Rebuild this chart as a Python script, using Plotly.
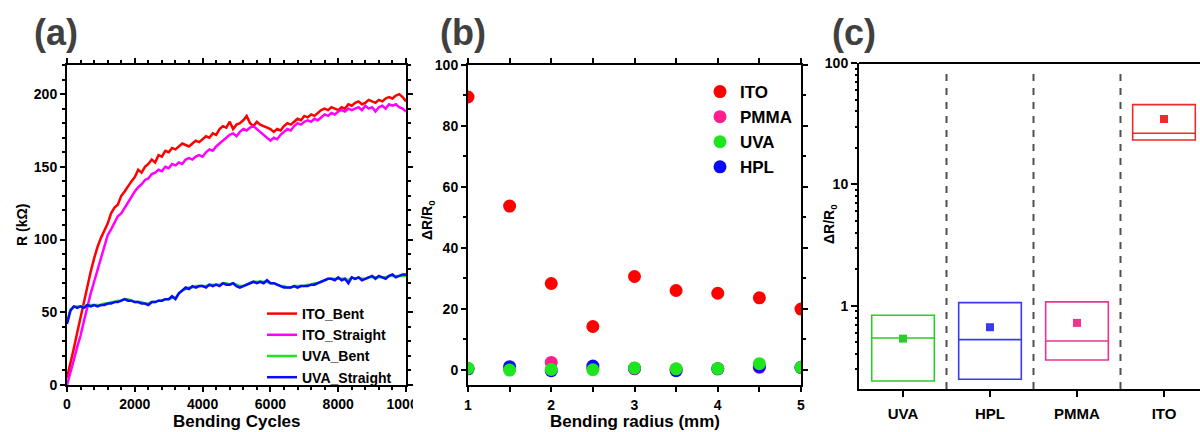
import plotly.graph_objects as go

# ---------------- (a) resistance vs bending cycles ----------------
cycles = list(range(0, 10001, 100))

ito_bent = [5, 14, 25, 36, 47, 58, 68, 78, 87, 95,
            101, 106, 111, 118, 122, 124, 130, 133, 137, 140,
            143, 148, 146, 150, 152, 155, 153, 158, 157, 161,
            160, 163, 162, 164, 166, 165, 164, 166, 168, 167,
            169, 171, 170, 173, 172, 176, 178, 177, 181, 176,
            179, 180, 182, 185, 180, 178, 181, 179, 178, 177,
            176, 174, 176, 175, 178, 180, 179, 181, 183, 182,
            185, 184, 186, 185, 187, 189, 190, 189, 191, 190,
            189, 191, 190, 193, 192, 194, 195, 193, 194, 196,
            195, 194, 196, 195, 197, 198, 197, 199, 200, 198,
            195]

ito_straight = [0, 8, 17, 26, 34, 44, 54, 63, 71, 79,
                88, 95, 103, 107, 112, 116, 118, 122, 126, 129,
                133, 136, 138, 141, 142, 145, 146, 148, 147, 150,
                149, 152, 151, 153, 152, 155, 156, 155, 157, 158,
                157, 160, 162, 161, 164, 166, 168, 170, 172, 173,
                171, 174, 176, 175, 177, 178, 176, 174, 172, 170,
                168, 170, 169, 172, 174, 176, 175, 178, 180, 179,
                181, 182, 181, 183, 182, 184, 186, 185, 187, 186,
                188, 189, 188, 190, 189, 190, 191, 189, 192, 190,
                191, 188, 191, 192, 190, 193, 192, 193, 191, 190,
                188]

uva_bent = [43, 52, 54, 54, 54, 54, 55, 55, 55, 55,
            55, 56, 56, 57, 57, 58, 58, 59, 59, 58,
            57, 57, 57, 56, 56, 57, 57, 58, 58, 59,
            59, 60, 60, 63, 65, 66, 67, 67, 68, 68,
            68, 68, 69, 69, 69, 69, 70, 70, 69, 70,
            69, 68, 68, 69, 70, 71, 71, 71, 71, 71,
            70, 70, 69, 68, 68, 67, 67, 68, 68, 68,
            68, 69, 69, 70, 70, 71, 72, 73, 73, 73,
            73, 73, 73, 72, 74, 73, 74, 73, 73, 74,
            74, 74, 74, 74, 74, 75, 75, 75, 75, 75,
            75]

uva_straight = [42, 51, 54, 53, 54, 53, 55, 54, 55, 54,
                55, 55, 56, 56, 57, 57, 58, 59, 58, 58,
                57, 57, 56, 56, 55, 57, 57, 58, 58, 59,
                59, 61, 59, 63, 65, 67, 66, 68, 67, 68,
                68, 67, 69, 68, 69, 68, 70, 69, 69, 70,
                68, 67, 68, 69, 70, 71, 70, 71, 70, 72,
                70, 70, 69, 68, 67, 67, 67, 68, 67, 68,
                68, 68, 69, 69, 70, 71, 72, 73, 73, 72,
                74, 72, 73, 70, 74, 73, 74, 72, 73, 74,
                75, 73, 75, 74, 73, 75, 76, 74, 75, 76,
                76]

# ---------------- (b) dR/R0 vs bending radius ----------------
radius_mm = [1, 1.5, 2, 2.5, 3, 3.5, 4, 4.5, 5]
dr_ito = [89.5, 53.7, 28.3, 14.2, 30.6, 26.0, 25.1, 23.6, 19.9]
dr_pmma = [0.4, 0.3, 2.4, 0.5, 0.3, 0.2, 0.3, 0.8, 0.7]
dr_hpl = [0.3, 1.0, -0.3, 1.2, 0.5, -0.3, 0.3, 1.0, 0.8]
dr_uva = [0.5, -0.1, 0.1, 0.0, 0.6, 0.3, 0.4, 2.0, 0.8]

# ---------------- (c) box summary (log scale) ----------------
materials = ["UVA", "HPL", "PMMA", "ITO"]
box_q1 = [0.241, 0.249, 0.359, 23.2]
box_median = [0.545, 0.528, 0.515, 26.4]
box_q3 = [0.838, 1.064, 1.079, 45.4]
box_mean = [0.538, 0.668, 0.725, 34.6]

# minor tick positions of the log axis in (c)
log_minor = [0.3, 0.4, 0.5, 0.6, 0.7, 0.8, 0.9,
             2, 3, 4, 5, 6, 7, 8, 9,
             20, 30, 40, 50, 60, 70, 80, 90]

RED = "#ff0000"
MAGENTA = "#ff00ff"
GREEN = "#1ee61e"
BLUE = "#0a0aff"
PINK = "#ff1f8c"
box_colors = ["#2ccc2c", "#3a3aee", "#f0338f", "#ee2a2a"]

W, H = 1200, 432
FONT = "Liberation Sans"


def px_x(p):
    return p / W


def px_y(p):
    return 1 - p / H


fig = go.Figure()

# panel (a) lines
for name, ys, col in [("ITO_Bent", ito_bent, RED),
                      ("ITO_Straight", ito_straight, MAGENTA),
                      ("UVA_Bent", uva_bent, GREEN),
                      ("UVA_Straight", uva_straight, BLUE)]:
    fig.add_trace(go.Scatter(x=cycles, y=ys, mode="lines", name=name,
                             line=dict(color=col, width=2.5),
                             xaxis="x", yaxis="y", legend="legend"))

# panel (b) scatter
for name, ys, col, rank in [("ITO", dr_ito, RED, 1),
                            ("PMMA", dr_pmma, PINK, 2),
                            ("HPL", dr_hpl, BLUE, 4),
                            ("UVA", dr_uva, GREEN, 3)]:
    fig.add_trace(go.Scatter(x=radius_mm, y=ys, mode="markers", name=name,
                             marker=dict(color=col, size=13),
                             xaxis="x2", yaxis="y2", legend="legend2",
                             legendrank=rank))

# panel (c) boxes with mean markers
for i, m in enumerate(materials):
    fig.add_trace(go.Box(x=[i], q1=[box_q1[i]], median=[box_median[i]],
                         q3=[box_q3[i]], lowerfence=[box_q1[i]],
                         upperfence=[box_q3[i]], width=0.72, whiskerwidth=0,
                         fillcolor="rgba(0,0,0,0)",
                         line=dict(color=box_colors[i], width=1.6),
                         showlegend=False, xaxis="x3", yaxis="y3"))
    fig.add_trace(go.Scatter(x=[i], y=[box_mean[i]], mode="markers",
                             marker=dict(symbol="square", size=8,
                                         color=box_colors[i]),
                             showlegend=False, xaxis="x3", yaxis="y3"))

tickfont = dict(family=FONT, size=14, color="black", weight="bold")
axis_common = dict(showline=True, linecolor="black", linewidth=2,
                   ticks="outside", tickcolor="black", tickwidth=2,
                   ticklen=5, showgrid=False, zeroline=False,
                   tickfont=tickfont, automargin=False)
axis_c = {k: v for k, v in axis_common.items()
          if k not in ("ticklen", "tickfont")}

c_domain_y = [px_y(389), px_y(63)]
c_range_y = [-0.684, 2.0]

fig.update_layout(
    width=W, height=H,
    margin=dict(l=0, r=0, t=0, b=0, autoexpand=False),
    paper_bgcolor="white", plot_bgcolor="white",
    font=dict(family=FONT, color="black"),
    xaxis=dict(domain=[px_x(67), px_x(406)], range=[0, 10000],
               dtick=2000, tickformat="d", mirror="allticks", anchor="y",
               minor=dict(dtick=400, ticklen=3, tickwidth=1.5,
                          tickcolor="black", ticks="outside"),
               **axis_common),
    yaxis=dict(domain=[px_y(385), px_y(65)], range=[0, 220],
               dtick=50, mirror="allticks", anchor="x",
               minor=dict(dtick=10, ticklen=3, tickwidth=1.5,
                          tickcolor="black", ticks="outside"),
               **axis_common),
    xaxis2=dict(domain=[px_x(468), px_x(801)], range=[1, 5],
                dtick=1, mirror="allticks", anchor="y2",
                minor=dict(dtick=0.5, ticklen=5, tickwidth=2,
                           tickcolor="black", ticks="outside"),
                ticklabelstandoff=1,
                **axis_common),
    yaxis2=dict(domain=[px_y(385), px_y(65)], range=[-5, 100],
                dtick=20, mirror="allticks", anchor="x2",
                minor=dict(dtick=10, ticklen=3, tickwidth=1.5,
                           tickcolor="black", ticks="outside"),
                **axis_common),
    xaxis3=dict(domain=[px_x(859), 1.0], range=[-0.506, 3.414],
                tickvals=list(range(len(materials))), ticktext=materials,
                anchor="y3", ticklen=6, ticklabelstandoff=4,
                tickfont=dict(family=FONT, size=15, color="black",
                              weight="bold"),
                **axis_c),
    yaxis3=dict(domain=c_domain_y, type="log", range=c_range_y,
                tickvals=[1, 10, 100], ticktext=["1", "10", "100"],
                anchor="x3", ticklen=6, tickfont=tickfont, **axis_c),
    # short minor ticks of the log axis
    yaxis4=dict(domain=c_domain_y, type="log", range=c_range_y,
                overlaying="y3", anchor="x3", side="left",
                tickvals=log_minor, showticklabels=False,
                ticks="outside", ticklen=3, tickwidth=1.5,
                tickcolor="black", showline=False, showgrid=False,
                zeroline=False, automargin=False),
    legend=dict(x=px_x(262), y=px_y(298), xanchor="left", yanchor="top",
                bgcolor="rgba(0,0,0,0)", itemwidth=30, tracegroupgap=0,
                font=dict(family=FONT, size=14, color="black",
                          weight="bold")),
    legend2=dict(x=px_x(700), y=px_y(74), xanchor="left", yanchor="top",
                 bgcolor="rgba(0,0,0,0)", itemwidth=30, tracegroupgap=0,
                 font=dict(family=FONT, size=17, color="black",
                           weight="bold")),
)

# invisible trace so the minor-tick axis is drawn
fig.add_trace(go.Scatter(x=[0], y=[box_median[0]], mode="markers",
                         marker=dict(opacity=0), hoverinfo="skip",
                         showlegend=False, xaxis="x3", yaxis="y4"))

shapes = []
# dashed separators between categories in (c)
for xb in [0.5, 1.5, 2.5]:
    shapes.append(dict(type="line", xref="x3", yref="y3 domain",
                       x0=xb, x1=xb, y0=0, y1=0.985,
                       line=dict(color="#505050", width=2, dash="7px,7px")))
# top frame line of (c)
shapes.append(dict(type="line", xref="x3 domain", yref="y3 domain",
                   x0=0, x1=1, y0=1, y1=1,
                   line=dict(color="black", width=2)))
# panel (b) edge trims the last cycle label of (a)
shapes.append(dict(type="rect", xref="paper", yref="paper",
                   x0=px_x(413), x1=px_x(440), y0=px_y(418), y1=px_y(390),
                   fillcolor="white", line=dict(width=0), layer="above"))
fig.update_layout(shapes=shapes)

ann = []
for txt, cx in [("(a)", 56), ("(b)", 463), ("(c)", 854)]:
    ann.append(dict(text="<b>%s</b>" % txt, x=px_x(cx), y=px_y(32),
                    xref="paper", yref="paper", showarrow=False,
                    xanchor="center", yanchor="middle",
                    font=dict(family=FONT, size=36, color="#404040")))

title_font = dict(family=FONT, size=17, color="black")
ann.append(dict(text="<b>Bending Cycles</b>", x=px_x(237), y=px_y(421),
                xref="paper", yref="paper", showarrow=False,
                xanchor="center", yanchor="middle", font=title_font))
ann.append(dict(text="<b>R (kΩ)</b>", x=px_x(22), y=px_y(225),
                xref="paper", yref="paper", showarrow=False, textangle=-90,
                xanchor="center", yanchor="middle",
                font=dict(family=FONT, size=14, color="black")))
ann.append(dict(text="<b>Bending radius (mm)</b>", x=px_x(635), y=px_y(421),
                xref="paper", yref="paper", showarrow=False,
                xanchor="center", yanchor="middle", font=title_font))
ann.append(dict(text="<b>ΔR/R<sub>0</sub></b>", x=px_x(428), y=px_y(220),
                xref="paper", yref="paper", showarrow=False, textangle=-90,
                xanchor="center", yanchor="middle",
                font=dict(family=FONT, size=14, color="black")))
ann.append(dict(text="<b>ΔR/R<sub>0</sub></b>", x=px_x(830), y=px_y(224),
                xref="paper", yref="paper", showarrow=False, textangle=-90,
                xanchor="center", yanchor="middle",
                font=dict(family=FONT, size=14, color="black")))
fig.update_layout(annotations=ann)

fig.write_html("out.html")
